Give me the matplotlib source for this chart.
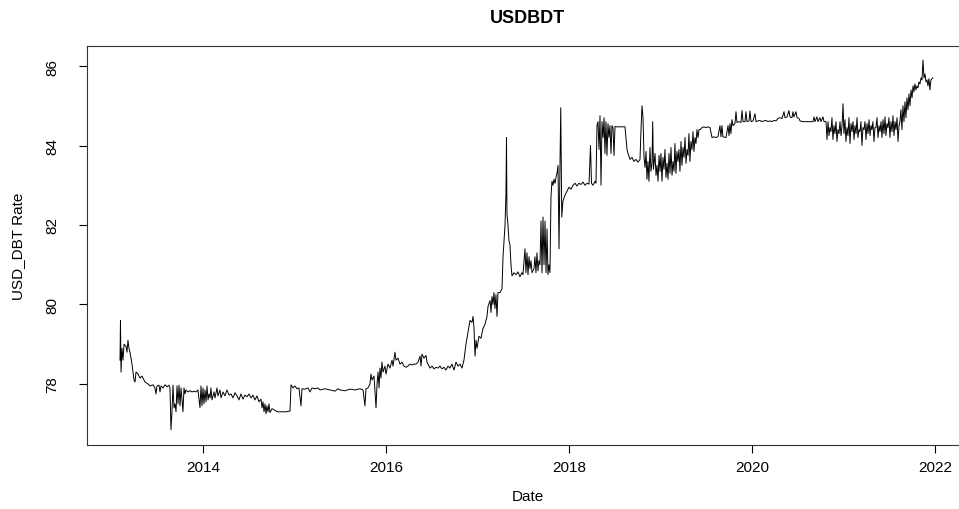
import matplotlib
matplotlib.use("Agg")
import matplotlib.pyplot as plt

plt.rcParams['font.family'] = ['Liberation Sans', 'DejaVu Sans']

# USD/BDT rate (decimal year, rate)
t_2013 = [2013.093, 2013.098, 2013.104, 2013.115, 2013.126, 2013.137, 2013.158, 2013.169,
          2013.180, 2013.191, 2013.202, 2013.224, 2013.246, 2013.257, 2013.268, 2013.290,
          2013.311, 2013.333, 2013.366, 2013.399, 2013.421, 2013.454, 2013.475, 2013.486,
          2013.497, 2013.519, 2013.530, 2013.541, 2013.563, 2013.585, 2013.607, 2013.628,
          2013.639, 2013.650, 2013.661, 2013.672, 2013.683, 2013.694, 2013.705, 2013.716,
          2013.727, 2013.738, 2013.749, 2013.760, 2013.770, 2013.781, 2013.792, 2013.803,
          2013.814, 2013.836, 2013.858, 2013.880, 2013.902, 2013.923, 2013.945, 2013.967,
          2013.978, 2013.989]
r_2013 = [78.6, 79.6, 78.3, 78.9, 78.6, 79.0, 78.95, 78.8,
          79.1, 78.9, 78.8, 78.5, 78.1, 78.05, 78.3, 78.25,
          78.15, 78.2, 78.05, 78.0, 77.95, 77.98, 77.9, 77.75,
          77.95, 77.97, 77.8, 77.95, 77.9, 77.98, 77.93, 77.97,
          77.9, 76.85, 77.3, 77.97, 77.4, 77.5, 77.3, 77.95,
          77.5, 77.97, 77.45, 77.9, 77.6, 77.3, 77.9, 77.75,
          77.85, 77.8, 77.83, 77.8, 77.82, 77.8, 77.85, 77.4,
          77.95, 77.45]

t_2014 = [2014.000, 2014.011, 2014.022, 2014.033, 2014.044, 2014.055, 2014.066, 2014.077,
          2014.087, 2014.098, 2014.120, 2014.131, 2014.153, 2014.164, 2014.186, 2014.197,
          2014.219, 2014.240, 2014.262, 2014.284, 2014.306, 2014.328, 2014.350, 2014.372,
          2014.393, 2014.415, 2014.437, 2014.459, 2014.481, 2014.503, 2014.525, 2014.546,
          2014.568, 2014.590, 2014.612, 2014.634, 2014.645, 2014.656, 2014.667, 2014.678,
          2014.689, 2014.699, 2014.710, 2014.721, 2014.732, 2014.754, 2014.776, 2014.798,
          2014.820, 2014.863, 2014.907, 2014.951, 2014.962, 2014.984]
r_2014 = [77.9, 77.5, 77.85, 77.55, 77.95, 77.6, 77.75, 77.65,
          77.9, 77.6, 77.8, 77.65, 77.9, 77.7, 77.85, 77.65,
          77.8, 77.7, 77.85, 77.72, 77.75, 77.65, 77.78, 77.7,
          77.6, 77.75, 77.62, 77.72, 77.68, 77.75, 77.65, 77.72,
          77.6, 77.7, 77.55, 77.62, 77.4, 77.55, 77.3, 77.5,
          77.25, 77.45, 77.3, 77.5, 77.28, 77.38, 77.35, 77.32,
          77.3, 77.3, 77.3, 77.32, 77.98, 77.9]

t_2015 = [2015.005, 2015.027, 2015.049, 2015.071, 2015.082, 2015.115, 2015.148, 2015.169,
          2015.191, 2015.224, 2015.257, 2015.279, 2015.333, 2015.388, 2015.443, 2015.475,
          2015.497, 2015.552, 2015.607, 2015.661, 2015.716, 2015.749, 2015.770, 2015.781,
          2015.803, 2015.825, 2015.836, 2015.847, 2015.869, 2015.891, 2015.902, 2015.913,
          2015.924, 2015.934, 2015.945, 2015.956, 2015.967, 2015.989]
r_2015 = [77.95, 77.88, 77.9, 77.45, 77.88, 77.87, 77.9, 77.8,
          77.9, 77.88, 77.9, 77.85, 77.88, 77.85, 77.82, 77.88,
          77.85, 77.83, 77.87, 77.85, 77.88, 77.85, 77.45, 77.88,
          77.9, 78.0, 78.25, 78.1, 78.2, 77.4, 78.0, 78.3,
          77.9, 78.4, 78.15, 78.55, 78.3, 78.45]

t_2016 = [2016.000, 2016.022, 2016.044, 2016.066, 2016.077, 2016.098, 2016.109, 2016.131,
          2016.153, 2016.175, 2016.197, 2016.219, 2016.240, 2016.262, 2016.284, 2016.306,
          2016.328, 2016.350, 2016.372, 2016.383, 2016.393, 2016.415, 2016.437, 2016.448,
          2016.459, 2016.481, 2016.503, 2016.525, 2016.546, 2016.568, 2016.590, 2016.612,
          2016.634, 2016.656, 2016.678, 2016.699, 2016.721, 2016.743, 2016.765, 2016.787,
          2016.809, 2016.831, 2016.852, 2016.874, 2016.896, 2016.918, 2016.940, 2016.951,
          2016.962, 2016.973, 2016.984, 2016.995]
r_2016 = [78.25, 78.5, 78.4, 78.6, 78.45, 78.8, 78.6, 78.65,
          78.5, 78.55, 78.45, 78.42, 78.45, 78.5, 78.48, 78.5,
          78.5, 78.55, 78.7, 78.45, 78.75, 78.65, 78.72, 78.55,
          78.5, 78.4, 78.45, 78.38, 78.42, 78.4, 78.45, 78.38,
          78.42, 78.35, 78.45, 78.4, 78.5, 78.35, 78.55, 78.45,
          78.5, 78.4, 78.6, 79.0, 79.3, 79.6, 79.55, 79.7,
          79.4, 78.7, 79.1, 78.9]

t_2017 = [2017.016, 2017.038, 2017.060, 2017.082, 2017.104, 2017.115, 2017.137, 2017.148,
          2017.158, 2017.169, 2017.180, 2017.191, 2017.202, 2017.213, 2017.224, 2017.246,
          2017.268, 2017.279, 2017.301, 2017.311, 2017.317, 2017.322, 2017.333, 2017.344,
          2017.355, 2017.366, 2017.377, 2017.399, 2017.421, 2017.443, 2017.464, 2017.486,
          2017.497, 2017.519, 2017.530, 2017.541, 2017.552, 2017.563, 2017.574, 2017.585,
          2017.596, 2017.617, 2017.628, 2017.639, 2017.650, 2017.661, 2017.672, 2017.683,
          2017.694, 2017.705, 2017.716, 2017.727, 2017.738, 2017.749, 2017.760, 2017.770,
          2017.781, 2017.792, 2017.803, 2017.814, 2017.825, 2017.836, 2017.847, 2017.858,
          2017.869, 2017.880, 2017.891, 2017.902, 2017.910, 2017.921, 2017.934, 2017.956,
          2017.978]
r_2017 = [79.2, 79.15, 79.4, 79.5, 79.7, 79.95, 80.1, 79.8,
          80.2, 80.0, 80.3, 79.9, 80.25, 79.7, 80.3, 80.3,
          80.4, 81.2, 82.0, 82.8, 84.2, 82.3, 82.0, 81.6,
          81.5, 81.0, 80.72, 80.8, 80.75, 80.82, 80.7, 80.8,
          80.75, 81.4, 80.8, 81.3, 80.75, 81.2, 80.9, 81.1,
          80.8, 80.9, 81.2, 80.8, 81.3, 80.85, 81.1, 81.0,
          82.1, 80.8, 82.2, 81.0, 82.1, 80.8, 81.9, 80.75,
          81.0, 80.8, 82.7, 83.1, 83.0, 83.15, 83.05, 83.2,
          83.3, 83.5, 81.4, 83.6, 84.95, 82.2, 82.6, 82.75,
          82.85]

t_2018 = [2018.000, 2018.022, 2018.044, 2018.066, 2018.087, 2018.109, 2018.131, 2018.153,
          2018.175, 2018.197, 2018.219, 2018.235, 2018.246, 2018.262, 2018.284, 2018.295,
          2018.306, 2018.317, 2018.328, 2018.339, 2018.350, 2018.361, 2018.372, 2018.383,
          2018.393, 2018.404, 2018.415, 2018.426, 2018.437, 2018.448, 2018.459, 2018.470,
          2018.481, 2018.492, 2018.503, 2018.525, 2018.557, 2018.590, 2018.612, 2018.634,
          2018.645, 2018.667, 2018.689, 2018.710, 2018.732, 2018.754, 2018.776, 2018.787,
          2018.798, 2018.809, 2018.820, 2018.831, 2018.842, 2018.852, 2018.863, 2018.874,
          2018.885, 2018.896, 2018.907, 2018.915, 2018.923, 2018.940, 2018.951, 2018.962,
          2018.973, 2018.984, 2018.995]
r_2018 = [82.95, 82.9, 83.0, 83.05, 82.98, 83.05, 83.02, 83.08,
          83.0, 83.05, 83.03, 84.0, 83.05, 83.0, 83.1, 83.05,
          84.5, 84.6, 83.9, 84.75, 83.0, 84.6, 84.2, 84.7,
          83.8, 84.6, 83.75, 84.55, 84.2, 84.5, 83.8, 84.5,
          84.45, 83.75, 84.48, 84.47, 84.47, 84.47, 84.47, 83.9,
          83.8, 83.65, 83.7, 83.6, 83.65, 83.58, 83.65, 84.4,
          85.0, 84.7, 83.7, 83.45, 83.85, 83.15, 83.6, 83.1,
          83.95, 83.35, 83.55, 84.6, 83.4, 83.8, 83.25, 83.5,
          83.1, 83.75, 83.35]

t_2019 = [2019.005, 2019.016, 2019.027, 2019.038, 2019.049, 2019.060, 2019.071, 2019.082,
          2019.093, 2019.104, 2019.115, 2019.126, 2019.137, 2019.148, 2019.158, 2019.169,
          2019.180, 2019.191, 2019.202, 2019.213, 2019.224, 2019.235, 2019.246, 2019.257,
          2019.268, 2019.279, 2019.290, 2019.301, 2019.311, 2019.322, 2019.333, 2019.344,
          2019.355, 2019.366, 2019.377, 2019.388, 2019.399, 2019.410, 2019.421, 2019.432,
          2019.454, 2019.475, 2019.497, 2019.519, 2019.541, 2019.563, 2019.585, 2019.607,
          2019.628, 2019.650, 2019.661, 2019.672, 2019.683, 2019.716, 2019.738, 2019.749,
          2019.760, 2019.770, 2019.781, 2019.792, 2019.814, 2019.825, 2019.836, 2019.858,
          2019.880, 2019.891, 2019.902, 2019.923, 2019.934, 2019.945, 2019.967, 2019.978,
          2019.989]
r_2019 = [83.8, 83.1, 83.7, 83.4, 83.9, 83.2, 83.55, 83.15,
          83.8, 83.3, 83.95, 83.25, 83.6, 83.35, 84.05, 83.3,
          83.85, 83.6, 83.9, 83.35, 84.1, 83.5, 83.95, 83.7,
          84.2, 83.55, 83.9, 83.75, 84.3, 83.6, 84.1, 83.9,
          84.35, 83.85, 84.2, 84.05, 84.4, 84.2, 84.4, 84.4,
          84.45, 84.47, 84.45, 84.47, 84.45, 84.2, 84.22, 84.2,
          84.22, 84.5, 84.22, 84.5, 84.22, 84.2, 84.5, 84.25,
          84.55, 84.3, 84.65, 84.5, 84.55, 84.85, 84.58, 84.6,
          84.58, 84.88, 84.6, 84.6, 84.85, 84.6, 84.62, 84.87,
          84.6]

t_2020 = [2020.011, 2020.033, 2020.044, 2020.066, 2020.087, 2020.109, 2020.131, 2020.153,
          2020.175, 2020.197, 2020.219, 2020.240, 2020.262, 2020.284, 2020.306, 2020.328,
          2020.350, 2020.361, 2020.383, 2020.404, 2020.415, 2020.437, 2020.448, 2020.459,
          2020.481, 2020.492, 2020.514, 2020.525, 2020.557, 2020.590, 2020.634, 2020.667,
          2020.678, 2020.689, 2020.710, 2020.721, 2020.743, 2020.754, 2020.776, 2020.787,
          2020.809, 2020.820, 2020.831, 2020.842, 2020.852, 2020.863, 2020.874, 2020.885,
          2020.896, 2020.907, 2020.918, 2020.929, 2020.940, 2020.951, 2020.962, 2020.973,
          2020.984, 2020.995]
r_2020 = [84.62, 84.8, 84.6, 84.62, 84.63, 84.6, 84.62, 84.63,
          84.6, 84.62, 84.6, 84.63, 84.62, 84.68, 84.7, 84.68,
          84.85, 84.7, 84.72, 84.88, 84.72, 84.7, 84.85, 84.72,
          84.85, 84.7, 84.68, 84.62, 84.6, 84.6, 84.6, 84.6,
          84.72, 84.6, 84.72, 84.6, 84.7, 84.6, 84.72, 84.6,
          84.6, 84.15, 84.6, 84.25, 84.45, 84.35, 84.7, 84.15,
          84.5, 84.3, 84.6, 84.1, 84.4, 84.3, 84.6, 84.25,
          84.5, 85.05]

t_2021 = [2021.005, 2021.016, 2021.027, 2021.038, 2021.049, 2021.060, 2021.071, 2021.082,
          2021.093, 2021.104, 2021.115, 2021.126, 2021.137, 2021.148, 2021.158, 2021.169,
          2021.180, 2021.191, 2021.202, 2021.213, 2021.224, 2021.235, 2021.246, 2021.257,
          2021.268, 2021.279, 2021.290, 2021.301, 2021.311, 2021.322, 2021.333, 2021.344,
          2021.355, 2021.366, 2021.377, 2021.388, 2021.399, 2021.410, 2021.421, 2021.432,
          2021.443, 2021.454, 2021.464, 2021.475, 2021.486, 2021.497, 2021.508, 2021.519,
          2021.530, 2021.541, 2021.552, 2021.563, 2021.574, 2021.585, 2021.596, 2021.607,
          2021.617, 2021.628, 2021.639, 2021.650, 2021.661, 2021.672, 2021.683, 2021.694,
          2021.705, 2021.716, 2021.727, 2021.738, 2021.749, 2021.760, 2021.770, 2021.781,
          2021.792, 2021.803, 2021.814, 2021.825, 2021.836, 2021.847, 2021.858, 2021.869,
          2021.880, 2021.891, 2021.902, 2021.913, 2021.923, 2021.934, 2021.945, 2021.956,
          2021.967, 2021.978]
r_2021 = [84.3, 84.65, 84.1, 84.45, 84.25, 84.7, 84.05, 84.55,
          84.35, 84.6, 84.15, 84.5, 84.3, 84.7, 84.2, 84.4,
          84.35, 84.6, 84.0, 84.45, 84.4, 84.6, 84.15, 84.55,
          84.3, 84.65, 84.25, 84.5, 84.4, 84.6, 84.1, 84.45,
          84.45, 84.7, 84.2, 84.5, 84.35, 84.6, 84.2, 84.65,
          84.3, 84.72, 84.25, 84.55, 84.45, 84.7, 84.2, 84.6,
          84.35, 84.75, 84.25, 84.6, 84.4, 84.7, 84.1, 84.5,
          84.6, 84.9, 84.4, 85.0, 84.6, 85.1, 84.7, 85.2,
          84.9, 85.3, 85.0, 85.4, 85.2, 85.5, 85.35, 85.55,
          85.4, 85.5, 85.45, 85.6, 85.55, 85.7, 85.65, 86.15,
          85.7, 85.8, 85.6, 85.65, 85.5, 85.68, 85.4, 85.65,
          85.68, 85.7]

dates = t_2013 + t_2014 + t_2015 + t_2016 + t_2017 + t_2018 + t_2019 + t_2020 + t_2021
rates = r_2013 + r_2014 + r_2015 + r_2016 + r_2017 + r_2018 + r_2019 + r_2020 + r_2021

year_ticks = [2014, 2016, 2018, 2020, 2022]
rate_ticks = [78, 80, 82, 84, 86]

fig = plt.figure(figsize=(9.59, 5.10), dpi=100)
# right edge of the R plot box lies just outside the cropped picture
ax = fig.add_axes([0.0907, 0.1255, 0.9187, 0.7823])
ax.plot(dates, rates, color='black', lw=0.7)
ax.set_xlim(2012.732, 2022.361)
ax.set_ylim(76.465, 86.503)

ax.set_xticks(year_ticks)
ax.set_xticklabels([str(y) for y in year_ticks])
ax.set_yticks(rate_ticks)
ax.set_yticklabels([str(r) for r in rate_ticks], rotation=90, va='center')
ax.tick_params(direction='out', length=6, width=0.8, labelsize=11, colors='black')
ax.tick_params(axis='x', pad=5)
ax.tick_params(axis='y', pad=14)
for s in ax.spines.values():
    s.set_linewidth(0.8)
    s.set_color('#333333')

ax.set_xlabel('Date', fontsize=11)
ax.xaxis.set_label_coords(0.5, -0.128)
ax.xaxis.label.set_va('center')
ax.set_ylabel('USD_DBT Rate', fontsize=11)
ax.yaxis.set_label_coords(-0.0783, 0.5)
ax.yaxis.label.set_va('center')

ax.set_title('USDBDT', fontsize=13, fontweight='bold', pad=17)

fig.savefig('out.png', dpi=100)
